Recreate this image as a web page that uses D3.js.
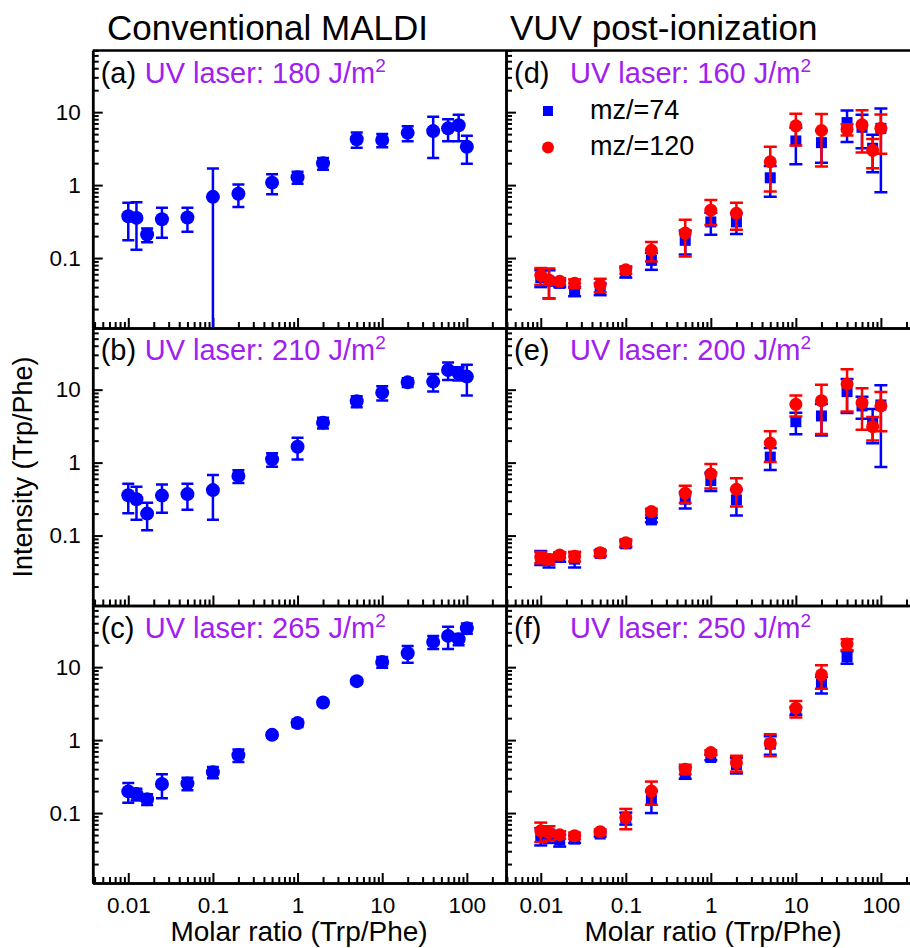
<!DOCTYPE html>
<html>
<head>
<meta charset="utf-8">
<script src="https://cdn.jsdelivr.net/npm/d3@7"></script>
<style>
  body { margin: 0; background: #fff; }
  svg { font-family: 'Liberation Sans', Arial, sans-serif; }
</style>
</head>
<body>
<div id="main"></div>
<script>
// molar ratios (Trp/Phe)
var ratios = [0.01, 0.0125, 0.0167, 0.025, 0.05, 0.1, 0.2, 0.5, 1, 2, 5, 10, 20, 40, 60, 80, 100];
var ratiosF = [0.01, 0.0125, 0.0167, 0.025, 0.05, 0.1, 0.2, 0.5, 1, 2, 5, 10, 20, 40];

// conventional MALDI
var maldi180 = [0.375, 0.355, 0.21, 0.34, 0.36, 0.69, 0.76, 1.08, 1.28, 1.99, 4.25, 4.16, 5.2, 5.5, 6.0, 6.6, 3.36];
var maldi180Err = [0.2, 0.225, 0.045, 0.15, 0.13, 1.0, 0.26, 0.33, 0.24, 0.37, 1.0, 0.85, 1.2, 3.15, 2.0, 2.6, 1.4];
var maldi210 = [0.357, 0.315, 0.2, 0.353, 0.37, 0.42, 0.657, 1.11, 1.65, 3.53, 6.93, 9.1, 12.6, 12.9, 18.6, 16.8, 15.1];
var maldi210Err = [0.155, 0.15, 0.082, 0.147, 0.145, 0.255, 0.13, 0.23, 0.55, 0.6, 1.2, 2.0, 1.7, 3.5, 5.0, 3.5, 6.8];
var maldi265 = [0.198, 0.182, 0.155, 0.25, 0.255, 0.364, 0.623, 1.18, 1.71, 3.27, 6.43, 11.8, 15.5, 22.2, 26.8, 24.2, 34.2];
var maldi265Err = [0.06, 0.033, 0.026, 0.09, 0.05, 0.065, 0.12, 0.1, 0.2, 0.25, 0.5, 2.0, 4.0, 4.5, 9.0, 4.3, 5.5];

// VUV post-ionization, mz/=74 and mz/=120
var vuv160a = [0.054, 0.048, 0.045, 0.035, 0.038, 0.064, 0.093, 0.175, 0.313, 0.313, 1.26, 4.03, 3.82, 7.2, 6.2, 3.2, 6.0];
var vuv160aErr = [0.014, 0.02, 0.005, 0.005, 0.007, 0.01, 0.024, 0.063, 0.105, 0.1, 0.57, 2.1, 1.8, 3.3, 3.0, 1.7, 5.2];
var vuv160b = [0.058, 0.05, 0.048, 0.045, 0.043, 0.069, 0.128, 0.22, 0.453, 0.41, 2.09, 6.5, 5.6, 5.8, 6.7, 3.0, 6.0];
var vuv160bErr = [0.015, 0.022, 0.005, 0.006, 0.009, 0.008, 0.038, 0.115, 0.17, 0.165, 1.27, 3.0, 3.8, 1.0, 3.9, 1.3, 3.3];
var vuv200a = [0.0506, 0.0455, 0.0506, 0.0475, 0.057, 0.077, 0.164, 0.315, 0.567, 0.308, 1.19, 3.64, 4.36, 9.4, 5.98, 3.64, 6.17];
var vuv200aErr = [0.011, 0.009, 0.007, 0.011, 0.005, 0.008, 0.012, 0.08, 0.16, 0.12, 0.4, 1.2, 2.0, 4.6, 2.0, 1.8, 5.3];
var vuv200b = [0.0506, 0.047, 0.054, 0.052, 0.058, 0.08, 0.213, 0.38, 0.7, 0.43, 1.85, 6.3, 7.07, 12, 6.63, 3.11, 5.98];
var vuv200bErr = [0.009, 0.007, 0.005, 0.008, 0.005, 0.008, 0.02, 0.1, 0.26, 0.18, 0.83, 2.0, 4.6, 7.0, 3.8, 1.1, 3.3];
var vuv250a = [0.049, 0.049, 0.0427, 0.044, 0.0516, 0.0855, 0.15, 0.36, 0.578, 0.459, 0.88, 2.52, 5.85, 13.8];
var vuv250aErr = [0.013, 0.01, 0.008, 0.005, 0.004, 0.016, 0.05, 0.065, 0.05, 0.11, 0.25, 0.3, 1.5, 2.7];
var vuv250b = [0.057, 0.054, 0.0504, 0.049, 0.0555, 0.087, 0.2, 0.4, 0.676, 0.49, 0.9, 2.74, 7.84, 20.7];
var vuv250bErr = [0.017, 0.012, 0.006, 0.005, 0.004, 0.027, 0.07, 0.06, 0.05, 0.12, 0.3, 0.7, 2.8, 3.5];

// axis ticks
var xMajor = [0.01, 0.1, 1, 10, 100];
var yMajor = [0.1, 1, 10];

// layout
var svgWidth = 910;
var svgHeight = 948;
var panelTop = 50.5;
var panelHeight = 277.5;
var yDomain = [0.011, 70];
var cols = [
  { l: 92.7, r: 506, xDomain: [0.0038, 290], title: 'Conventional MALDI', titleX: 107, labelGap: 52 },
  { l: 506, r: 910, xDomain: [0.0039, 220], title: 'VUV post-ionization', titleX: 510, labelGap: 64 }
];
var blue = '#0000ff';
var red = '#ff0000';
var purple = '#a020f0';

var panels = [
  { col: 0, row: 0, tag: '(a)', fluence: 180, series: [{ x: ratios, y: maldi180, err: maldi180Err, color: blue, shape: 'bigcircle' }] },
  { col: 0, row: 1, tag: '(b)', fluence: 210, series: [{ x: ratios, y: maldi210, err: maldi210Err, color: blue, shape: 'bigcircle' }] },
  { col: 0, row: 2, tag: '(c)', fluence: 265, series: [{ x: ratios, y: maldi265, err: maldi265Err, color: blue, shape: 'bigcircle' }] },
  { col: 1, row: 0, tag: '(d)', fluence: 160, legend: true, series: [
    { x: ratios, y: vuv160a, err: vuv160aErr, color: blue, shape: 'square' },
    { x: ratios, y: vuv160b, err: vuv160bErr, color: red, shape: 'circle' }] },
  { col: 1, row: 1, tag: '(e)', fluence: 200, series: [
    { x: ratios, y: vuv200a, err: vuv200aErr, color: blue, shape: 'square' },
    { x: ratios, y: vuv200b, err: vuv200bErr, color: red, shape: 'circle' }] },
  { col: 1, row: 2, tag: '(f)', fluence: 250, series: [
    { x: ratiosF, y: vuv250a, err: vuv250aErr, color: blue, shape: 'square' },
    { x: ratiosF, y: vuv250b, err: vuv250bErr, color: red, shape: 'circle' }] }
];

// minor ticks for a log domain
function minorTicks(domain) {
  var out = [];
  for (var e = -4; e <= 3; e++) {
    for (var k = 2; k <= 9; k++) {
      var v = k * Math.pow(10, e);
      if (v >= domain[0] && v <= domain[1]) out.push(v);
    }
  }
  return out;
}

var svg = d3.select('#main')
  .append('svg')
  .attr('width', svgWidth)
  .attr('height', svgHeight);

// column titles
cols.forEach(function (c) {
  svg.append('text')
    .attr('x', c.titleX)
    .attr('y', 40)
    .style('font-size', '35px')
    .text(c.title);
});

// top border
svg.append('line')
  .attr('x1', cols[0].l).attr('x2', cols[1].r)
  .attr('y1', panelTop).attr('y2', panelTop)
  .attr('stroke', '#000').attr('stroke-width', 2.5);

panels.forEach(function (p) {
  var c = cols[p.col];
  var top = panelTop + p.row * panelHeight;
  var bottom = top + panelHeight;

  var xScale = d3.scaleLog().domain(c.xDomain).range([c.l, c.r]);
  var yScale = d3.scaleLog().domain(yDomain).range([bottom, top]).clamp(true);

  var g = svg.append('g');
  var clipId = 'clip' + p.col + p.row;
  g.append('clipPath').attr('id', clipId)
    .append('rect')
    .attr('x', c.l).attr('y', top)
    .attr('width', c.r - c.l).attr('height', panelHeight);

  // x axis (ticks inward)
  var showX = p.row === 2;
  var xAxis = d3.axisBottom(xScale)
    .tickValues(xMajor)
    .tickSize(-10)
    .tickSizeOuter(0)
    .tickPadding(14)
    .tickFormat(showX ? d3.format('~g') : '');
  var xg = g.append('g')
    .attr('transform', 'translate(0,' + bottom + ')')
    .call(xAxis);
  g.append('g')
    .attr('transform', 'translate(0,' + bottom + ')')
    .call(d3.axisBottom(xScale).tickValues(minorTicks(c.xDomain)).tickSize(-6).tickSizeOuter(0).tickFormat(''));

  // y axis (ticks inward)
  var showY = p.col === 0;
  var yAxis = d3.axisLeft(yScale)
    .tickValues(yMajor)
    .tickSize(-10)
    .tickSizeOuter(0)
    .tickPadding(12)
    .tickFormat(showY ? d3.format('~g') : '');
  g.append('g')
    .attr('transform', 'translate(' + c.l + ',0)')
    .call(yAxis);
  g.append('g')
    .attr('transform', 'translate(' + c.l + ',0)')
    .call(d3.axisLeft(yScale).tickValues(minorTicks(yDomain)).tickSize(-6).tickSizeOuter(0).tickFormat(''));

  g.selectAll('.domain').attr('stroke', '#000').attr('stroke-width', 2.5);
  g.selectAll('.tick line').attr('stroke', '#000').attr('stroke-width', 2);
  g.selectAll('.tick text')
    .attr('fill', '#000')
    .style('font-size', '22.5px')
    .style('font-family', "'Liberation Sans', Arial, sans-serif");

  // panel label
  g.append('text')
    .attr('x', c.l + 8)
    .attr('y', top + 32)
    .style('font-size', '29px')
    .text(p.tag);
  var lab = g.append('text')
    .attr('x', c.l + c.labelGap)
    .attr('y', top + 32)
    .attr('fill', purple)
    .style('font-size', '29px')
    .text('UV laser: ' + p.fluence + ' J/m');
  lab.append('tspan')
    .attr('dy', -11)
    .style('font-size', '19px')
    .text('2');

  // data series
  var dataG = g.append('g').attr('clip-path', 'url(#' + clipId + ')');
  p.series.forEach(function (s) {
    var pts = s.x.map(function (x, i) { return { x: x, y: s.y[i], e: s.err[i] }; });
    var capW = s.shape === 'bigcircle' ? 12 : 13;
    var sg = dataG.append('g');

    var bars = sg.selectAll('.bar').data(pts).enter().append('g')
      .attr('stroke', s.color).attr('stroke-width', 2.5);
    bars.append('line')
      .attr('x1', function (d) { return xScale(d.x); })
      .attr('x2', function (d) { return xScale(d.x); })
      .attr('y1', function (d) { return yScale(d.y + d.e); })
      .attr('y2', function (d) { return d.y - d.e > 0 ? yScale(d.y - d.e) : bottom + 5; });
    bars.append('line')
      .attr('x1', function (d) { return xScale(d.x) - capW / 2; })
      .attr('x2', function (d) { return xScale(d.x) + capW / 2; })
      .attr('y1', function (d) { return yScale(d.y + d.e); })
      .attr('y2', function (d) { return yScale(d.y + d.e); });
    bars.filter(function (d) { return d.y - d.e > 0; }).append('line')
      .attr('x1', function (d) { return xScale(d.x) - capW / 2; })
      .attr('x2', function (d) { return xScale(d.x) + capW / 2; })
      .attr('y1', function (d) { return yScale(d.y - d.e); })
      .attr('y2', function (d) { return yScale(d.y - d.e); });

    if (s.shape === 'square') {
      sg.selectAll('.sym').data(pts).enter().append('rect')
        .attr('x', function (d) { return xScale(d.x) - 5.5; })
        .attr('y', function (d) { return yScale(d.y) - 5.5; })
        .attr('width', 11).attr('height', 11)
        .attr('fill', s.color);
    } else {
      sg.selectAll('.sym').data(pts).enter().append('circle')
        .attr('cx', function (d) { return xScale(d.x); })
        .attr('cy', function (d) { return yScale(d.y); })
        .attr('r', s.shape === 'bigcircle' ? 7 : 6.5)
        .attr('fill', s.color);
    }
  });

  // legend
  if (p.legend) {
    var lg = g.append('g').attr('transform', 'translate(' + (c.l + 42) + ',' + top + ')');
    lg.append('rect').attr('x', -5).attr('y', 55.5).attr('width', 10).attr('height', 10).attr('fill', blue);
    lg.append('circle').attr('cx', 0).attr('cy', 97).attr('r', 6).attr('fill', red);
    lg.append('text').attr('x', 42).attr('y', 68).style('font-size', '27px').text('mz/=74');
    lg.append('text').attr('x', 42).attr('y', 104.5).style('font-size', '27px').text('mz/=120');
  }
});

// axis titles
cols.forEach(function (c, i) {
  svg.append('text')
    .attr('x', i === 0 ? 299 : 713)
    .attr('y', 941)
    .attr('text-anchor', 'middle')
    .style('font-size', '28px')
    .text('Molar ratio (Trp/Phe)');
});
svg.append('text')
  .attr('transform', 'translate(32,467) rotate(-90)')
  .attr('text-anchor', 'middle')
  .style('font-size', '27px')
  .text('Intensity (Trp/Phe)');
</script>
</body>
</html>
